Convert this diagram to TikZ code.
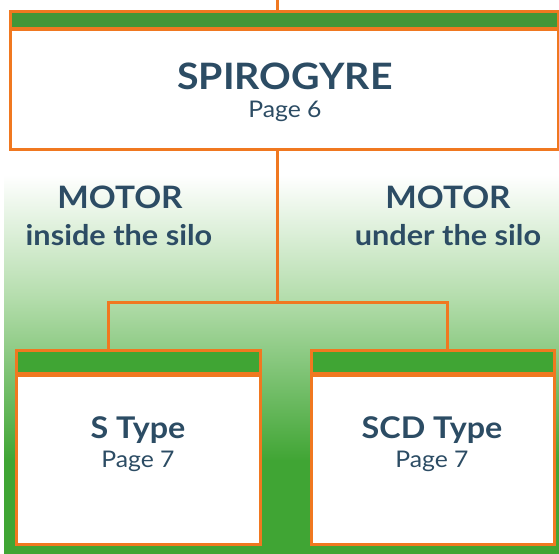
\documentclass[tikz,border=0pt]{standalone}
\usepackage{fontspec}
\setmainfont[FakeStretch=1.08]{Lato}
\definecolor{orangeline}{RGB}{240,120,32}
\definecolor{topgreen}{RGB}{67,150,56}
\definecolor{leafgreen}{RGB}{64,165,52}
\definecolor{palegreen}{RGB}{178,220,170}
\definecolor{inkblue}{RGB}{44,76,100}
\tikzset{
  wire/.style={draw=orangeline, line width=3bp},
  band/.style={draw=orangeline, line width=3bp, fill=leafgreen, anchor=north west, inner sep=0pt, outer sep=0pt},
  panel/.style={draw=orangeline, line width=3bp, fill=white, anchor=north west, inner sep=0pt, outer sep=0pt},
  bigname/.style={text=inkblue, anchor=base, font=\bfseries\fontsize{36.5}{40}\selectfont},
  boxname/.style={text=inkblue, anchor=base, font=\bfseries\fontsize{30}{32}\selectfont},
  pageref/.style={text=inkblue, anchor=base, font=\fontsize{23}{25}\selectfont},
  motor/.style={text=inkblue, anchor=base, font=\bfseries\fontsize{31}{33}\selectfont},
  silo/.style={text=inkblue, anchor=base, font=\bfseries\fontsize{28.5}{30}\selectfont}
}
\begin{document}
\begin{tikzpicture}[x=1bp, y=-1bp]
  \useasboundingbox (0,0) rectangle (559,554);
  % background
  \fill[white] (4,150) rectangle (559,176);
  \shade[top color=white, bottom color=palegreen] (4,175) rectangle (559,301);
  \shade[top color=palegreen, bottom color=leafgreen] (4,300) rectangle (559,461);
  \fill[leafgreen] (4,460) rectangle (559,554);
  % boxes
  \node[band, fill=topgreen, minimum width=548bp, minimum height=17bp] (spiroBand) at (10,12) {};
  \node[panel, minimum width=548bp, minimum height=119bp] (spiro) at (10,30) {};
  \node[band, minimum width=244bp, minimum height=23bp] (sBand) at (16,350) {};
  \node[panel, minimum width=244bp, minimum height=169bp] (sBox) at (16,375) {};
  \node[band, minimum width=243bp, minimum height=23bp] (scdBand) at (311,350) {};
  \node[panel, minimum width=243bp, minimum height=169bp] (scdBox) at (311,375) {};
  % connectors
  \coordinate (feed) at (277,0);
  \coordinate (fork) at (277,302);
  \coordinate (leftDrop) at (108,302);
  \coordinate (rightDrop) at (447,302);
  \draw[wire] (feed) -- (feed |- spiroBand.north);
  \draw[wire] (spiro.south -| fork) -- (fork);
  \draw[wire] (leftDrop |- sBand.north) -- (leftDrop) -- (rightDrop) -- (rightDrop |- scdBand.north);
  % labels
  \node[bigname] (spiroName) at (285,90) {SPIROGYRE};
  \node[pageref] (spiroPage) at (285,118) {Page 6};
  \node[motor] (motorIn) at (120,209) {MOTOR};
  \node[silo] (siloIn) at (119,245) {inside the silo};
  \node[motor] (motorUnder) at (448,209) {MOTOR};
  \node[silo] (siloUnder) at (448,245) {under the silo};
  \node[boxname] (sName) at (138,438) {S Type};
  \node[pageref] (sPage) at (138,467) {Page 7};
  \node[boxname] (scdName) at (432,438) {SCD Type};
  \node[pageref] (scdPage) at (432,467) {Page 7};
\end{tikzpicture}
\end{document}
